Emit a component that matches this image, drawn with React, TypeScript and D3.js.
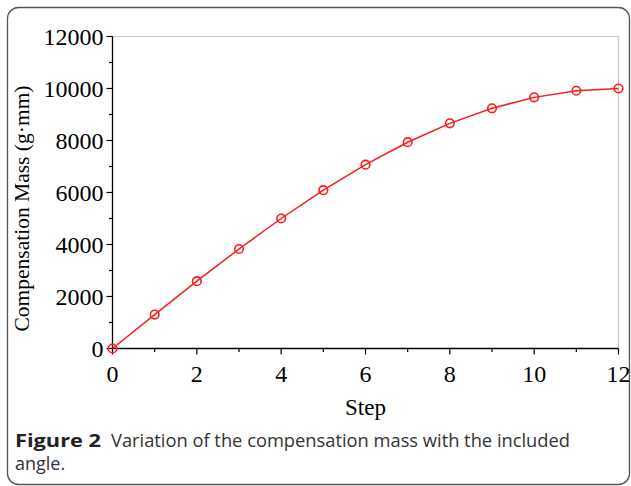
import React from "react";
import * as d3 from "d3";

const steps = [0, 1, 2, 3, 4, 5, 6, 7, 8, 9, 10, 11, 12];
const mass = [0, 1305, 2588, 3827, 5000, 6088, 7071, 7934, 8660, 9239, 9659, 9914, 10000];
const xTicks = [0, 2, 4, 6, 8, 10, 12];
const xMinor = [1, 3, 5, 7, 9, 11];
const yTicks = [0, 2000, 4000, 6000, 8000, 10000, 12000];
const yMinor = [1000, 3000, 5000, 7000, 9000, 11000];
const xTitle = "Step";
const yTitle = "Compensation Mass (g\u00b7mm)";
const captionBold = "Figure 2";
const captionLine1 = "Variation of the compensation mass with the included";
const captionLine2 = "angle.";

export default function App() {
  const W = 631;
  const H = 486;
  const left = 112.5;
  const right = 618.5;
  const top = 36.5;
  const bottom = 348.5;
  const x = d3.scaleLinear().domain([0, 12]).range([left, right]);
  const y = d3.scaleLinear().domain([0, 12000]).range([bottom, top]);
  const line = d3
    .line<number>()
    .x((_, i) => x(steps[i]))
    .y((d) => y(d));
  const serif = "'Liberation Serif', 'Times New Roman', serif";
  const sans = "'Open Sans', 'Noto Sans', sans-serif";
  const red = "#ff1a1a";

  return (
    <svg
      width={W}
      height={H}
      style={{ position: "absolute", left: 0, top: 0, background: "#fff" }}
    >
      <rect x={7.5} y={7.5} width={622} height={477} rx={11} ry={11} fill="#fff" stroke="#555" strokeWidth={1.3} />
      <line x1={left} x2={right} y1={top} y2={top} stroke="#c8c8c8" strokeWidth={1.2} />
      <line x1={right} x2={right} y1={top} y2={bottom} stroke="#c8c8c8" strokeWidth={1.2} />
      <line x1={left} x2={left} y1={top} y2={bottom} stroke="#000" strokeWidth={1.3} />
      <line x1={left} x2={right} y1={bottom} y2={bottom} stroke="#000" strokeWidth={1.3} />
      {yTicks.map((t) => (
        <g key={"y" + t}>
          <line x1={left - 6} x2={left} y1={y(t)} y2={y(t)} stroke="#000" strokeWidth={1.2} />
          <text x={left - 9} y={y(t)} dy="0.34em" textAnchor="end" fontFamily={serif} fontSize={24} fill="#000">
            {t}
          </text>
        </g>
      ))}
      {yMinor.map((t) => (
        <line key={"ym" + t} x1={left - 3.5} x2={left} y1={y(t)} y2={y(t)} stroke="#000" strokeWidth={1.2} />
      ))}
      {xTicks.map((t) => (
        <g key={"x" + t}>
          <line x1={x(t)} x2={x(t)} y1={bottom} y2={bottom + 6} stroke="#000" strokeWidth={1.2} />
          <text x={x(t)} y={bottom + 33} textAnchor="middle" fontFamily={serif} fontSize={24} fill="#000">
            {t}
          </text>
        </g>
      ))}
      {xMinor.map((t) => (
        <line key={"xm" + t} x1={x(t)} x2={x(t)} y1={bottom} y2={bottom + 3.5} stroke="#000" strokeWidth={1.2} />
      ))}
      <text x={(left + right) / 2} y={415} textAnchor="middle" fontFamily={serif} fontSize={23} fill="#000">
        {xTitle}
      </text>
      <text
        transform={`translate(29, ${(top + bottom) / 2 + 16}) rotate(-90)`}
        textAnchor="middle"
        fontFamily={serif}
        fontSize={21.5}
        fill="#000"
      >
        {yTitle}
      </text>
      <path d={line(mass) || ""} fill="none" stroke={red} strokeWidth={1.5} />
      {mass.map((v, i) => (
        <circle key={"c" + i} cx={x(steps[i])} cy={y(v)} r={4.3} fill="none" stroke={red} strokeWidth={1.6} />
      ))}
      <text x={15} y={447} fontFamily={sans} fontSize={18} fontWeight="bold" fill="#222" textLength={86} lengthAdjust="spacingAndGlyphs">
        {captionBold}
      </text>
      <text x={111} y={447} fontFamily={sans} fontSize={18} fill="#333" textLength={459} lengthAdjust="spacingAndGlyphs">
        {captionLine1}
      </text>
      <text x={15} y={470} fontFamily={sans} fontSize={18} fill="#333">
        {captionLine2}
      </text>
    </svg>
  );
}
